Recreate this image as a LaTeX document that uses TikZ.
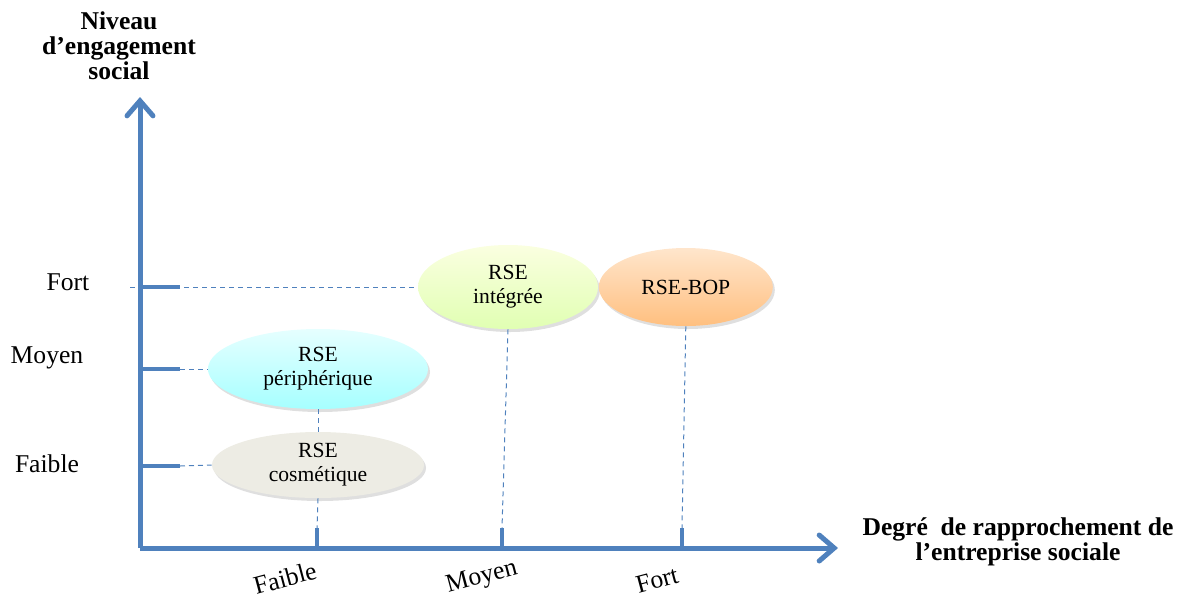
\documentclass[tikz,border=0pt]{standalone}
\usepackage{fontspec}
\setmainfont{Liberation Serif}
\usetikzlibrary{positioning,arrows.meta,shadows,shapes.geometric}

\definecolor{axisblue}{HTML}{4F81BD}

\begin{document}
\begin{tikzpicture}[x=0.5pt, y=-0.5pt,
        axisline/.style={draw=axisblue, line width=2.5pt, -{Straight Barb[length=7.5pt, width=13pt, line cap=round]}},
        tickline/.style={draw=axisblue, line width=2pt},
        guideline/.style={draw=axisblue, line width=0.5pt, dash pattern=on 2.5pt off 2pt},
        ellnode/.style={ellipse, inner sep=0pt, align=center, font=\fontsize{10.8}{12}\selectfont, drop shadow={opacity=0.25, shadow xshift=1pt, shadow yshift=-1.5pt}},
        levellabel/.style={font=\fontsize{12.8}{14}\selectfont},
        titlelabel/.style={font=\bfseries\fontsize{12.8}{12.5}\selectfont, align=center}]

        \useasboundingbox (0,0) rectangle (1182,601);

        % axes
        \coordinate (origin) at (140,548);
        \coordinate (ytop) at (140,97);
        \coordinate (xend) at (838,548);
        \draw[axisline] (origin) -- (ytop);
        \draw[axisline] (origin) -- (xend);

        % ticks
        \coordinate (yfort) at (180,287);
        \coordinate (ymoyen) at (180,369);
        \coordinate (yfaible) at (180,466);
        \coordinate (xfaible) at (317,528);
        \coordinate (xmoyen) at (502,528);
        \coordinate (xfort) at (682,528);
        \draw[tickline] (140,287) -- (yfort);
        \draw[tickline] (140,369) -- (ymoyen);
        \draw[tickline] (140,466) -- (yfaible);
        \draw[tickline] (317,548) -- (xfaible);
        \draw[tickline] (502,548) -- (xmoyen);
        \draw[tickline] (682,548) -- (xfort);

        % labels
        \node[titlelabel] (ytitle) at (119,46) {Niveau\\d’engagement\\social};
        \node[titlelabel] (xtitle) at (1018,542) {Degré\ \ de rapprochement de\\l’entreprise sociale};
        \node[levellabel] (lfort) at (68,282) {Fort};
        \node[levellabel] (lmoyen) at (47,358) {Moyen};
        \node[levellabel] (lfaible) at (47,464) {Faible};
        \node[levellabel, rotate=15] (cfaible) at (285,578) {Faible};
        \node[levellabel, rotate=15] (cmoyen) at (482,578) {Moyen};
        \node[levellabel, rotate=15] (cfort) at (657,580) {Fort};

        % ellipses
        \node[ellnode, minimum width=90pt, minimum height=42pt, top color=green!15!yellow!12, bottom color=green!40!yellow!30] (integree) at (508,287) {RSE\\intégrée};
        \node[ellnode, minimum width=87pt, minimum height=39pt, top color=orange!20, bottom color=orange!50] (bop) [right=0pt of integree] {RSE-BOP};
        \node[ellnode, minimum width=110pt, minimum height=40pt, top color=cyan!10, bottom color=cyan!35] (peripherique) at (318,369) {RSE\\périphérique};
        \node[ellnode, minimum width=106pt, minimum height=33pt, fill=black!5!yellow!4!white!92!black] (cosmetique) at (318,465) {RSE\\cosmétique};

        % guides
        \coordinate (fortstart) at (130,287);
        \draw[guideline] (fortstart) -- (integree.west);
        \draw[guideline] (ymoyen) -- (peripherique.west);
        \draw[guideline] (yfaible) -- (cosmetique.west);
        \draw[guideline] (peripherique.south) -- (cosmetique.north);
        \draw[guideline] (cosmetique.south) -- (xfaible);
        \draw[guideline] (integree.south) -- (xmoyen);
        \draw[guideline] (bop.south) -- (xfort);

\end{tikzpicture}
\end{document}
